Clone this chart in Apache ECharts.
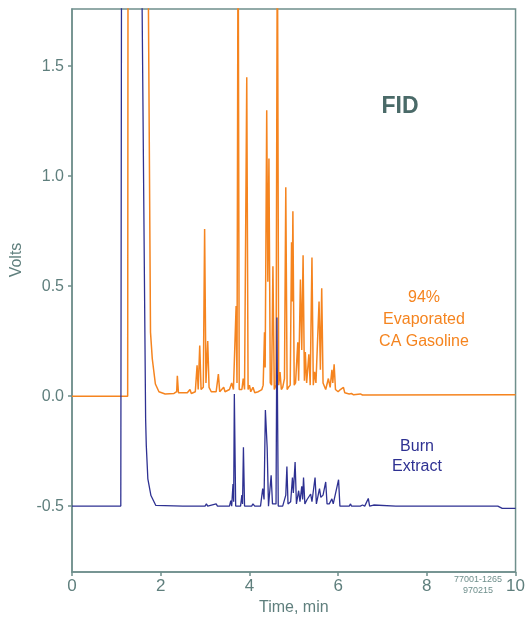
<!DOCTYPE html>
<html>
<head>
<meta charset="utf-8">
<script src="https://cdn.jsdelivr.net/npm/echarts@6/dist/echarts.min.js"></script>
<style>
  html, body { margin: 0; padding: 0; background: #ffffff; }
  #chart { width: 528px; height: 621px; }
</style>
</head>
<body>
<div id="chart"></div>
<script>
// FID chromatogram: 94% evaporated CA gasoline vs. burn extract
// Retention time (min) and detector signal (volts) for each trace.
const gasolineTime = [
  0, 1.255, 1.265, 1.70, 1.77, 1.81, 1.88, 1.96, 2.10, 2.30,
  2.36, 2.375, 2.40, 2.60, 2.66, 2.69, 2.78, 2.82, 2.845, 2.88,
  2.91, 2.96, 2.99, 3.02, 3.06, 3.09, 3.14, 3.25, 3.30, 3.33,
  3.42, 3.45, 3.55, 3.60, 3.64, 3.70, 3.72, 3.745, 3.77, 3.83,
  3.86, 3.89, 3.94, 3.97, 4.00, 4.03, 4.08, 4.12, 4.20, 4.28,
  4.31, 4.34, 4.355, 4.39, 4.415, 4.44, 4.47, 4.50, 4.53, 4.56,
  4.60, 4.63, 4.66, 4.69, 4.72, 4.75, 4.79, 4.82, 4.85, 4.88,
  4.92, 4.95, 4.965, 4.98, 5.01, 5.04, 5.09, 5.11, 5.15, 5.18,
  5.21, 5.24, 5.26, 5.29, 5.34, 5.37, 5.41, 5.44, 5.47, 5.50,
  5.57, 5.60, 5.63, 5.66, 5.72, 5.78, 5.82, 5.86, 5.88, 5.91,
  5.94, 6.00, 6.05, 6.12, 6.15, 6.25, 6.30, 6.35, 6.50, 6.55,
  10
];
const gasolineVolts = [
  0, 0, 2.5, 2.5, 0.29, 0.17, 0.055, 0.02, 0.01, 0.012,
  0.02, 0.092, 0.015, 0.015, 0.03, 0.012, 0.02, 0.14, 0.03, 0.23,
  0.03, 0.04, 0.76, 0.06, 0.25, 0.04, 0.02, 0.02, 0.10, 0.02,
  0.04, 0.02, 0.03, 0.06, 0.03, 0.41, 0.06, 2.3, 0.03, 0.03,
  0.08, 0.03, 1.45, 0.03, 0.05, 0.02, 0.04, 0.015, 0.02, 0.03,
  0.05, 0.29, 0.13, 1.30, 0.52, 1.08, 0.06, 0.05, 0.59, 0.03,
  0.05, 2.2, 0.05, 0.11, 0.03, 0.04, 0.08, 0.95, 0.03, 0.04,
  0.05, 0.70, 0.43, 0.84, 0.05, 0.06, 0.245, 0.07, 0.53, 0.21,
  0.64, 0.07, 0.20, 0.06, 0.19, 0.05, 0.63, 0.05, 0.11, 0.06,
  0.43, 0.12, 0.49, 0.06, 0.03, 0.08, 0.04, 0.12, 0.06, 0.145,
  0.03, 0.02, 0.03, 0.04, 0.015, 0.01, 0.012, 0.006, 0.01, 0.005,
  0.006
];

const burnTime = [
  0, 1.10, 1.12, 1.55, 1.66, 1.675, 1.71, 1.78, 1.89, 2.50,
  3.00, 3.03, 3.06, 3.25, 3.28, 3.55, 3.58, 3.60, 3.63, 3.645,
  3.66, 3.69, 3.80, 3.83, 3.845, 3.865, 3.89, 4.05, 4.08, 4.12,
  4.25, 4.30, 4.33, 4.36, 4.40, 4.43, 4.49, 4.52, 4.60, 4.62,
  4.65, 4.75, 4.82, 4.845, 4.87, 4.93, 4.97, 4.99, 5.03, 5.06,
  5.11, 5.14, 5.18, 5.20, 5.22, 5.25, 5.30, 5.38, 5.41, 5.48,
  5.51, 5.58, 5.61, 5.66, 5.72, 5.75, 5.80, 5.86, 5.89, 6.01,
  6.04, 6.25, 6.28, 6.30, 6.50, 6.55, 6.60, 6.68, 6.71, 6.80,
  6.83, 7.30, 7.32, 7.35, 9.60, 9.70, 10
];
const burnVolts = [
  -0.5, -0.5, 2.5, 2.5, -0.105, -0.225, -0.376, -0.452, -0.497, -0.5,
  -0.5, -0.49, -0.5, -0.49, -0.5, -0.5, -0.475, -0.5, -0.40, -0.48,
  0.01, -0.5, -0.5, -0.45, -0.49, -0.233, -0.5, -0.5, -0.49, -0.5,
  -0.5, -0.42, -0.47, -0.063, -0.233, -0.5, -0.36, -0.49, -0.49, 0.357,
  -0.5, -0.5, -0.45, -0.32, -0.49, -0.48, -0.37, -0.44, -0.30, -0.49,
  -0.43, -0.48, -0.41, -0.47, -0.37, -0.49, -0.47, -0.445, -0.48, -0.37,
  -0.49, -0.42, -0.46, -0.45, -0.39, -0.49, -0.49, -0.467, -0.49, -0.38,
  -0.5, -0.5, -0.49, -0.5, -0.5, -0.495, -0.5, -0.465, -0.5, -0.495,
  -0.5, -0.5, -0.495, -0.5, -0.5, -0.51, -0.51
];

const xTicks = [0, 2, 4, 6, 8, 10];
const yTicks = [-0.5, 0.0, 0.5, 1.0, 1.5];

const axisColor = '#6f8f8c';
const labelColor = '#5f7f7d';
const fontFamily = '"Liberation Sans", Arial, sans-serif';

const pairs = (xs, ys) => xs.map((x, i) => [x, ys[i]]);

const chart = echarts.init(document.getElementById('chart'), null, { renderer: 'canvas' });

chart.setOption({
  animation: false,
  backgroundColor: '#ffffff',
  grid: {
    left: 72, right: 11, top: 9, bottom: 47,
    show: true, borderColor: axisColor, borderWidth: 1.5, backgroundColor: 'transparent'
  },
  xAxis: {
    type: 'value',
    min: 0, max: 10, interval: 2,
    name: 'Time, min',
    nameLocation: 'middle',
    nameGap: 24,
    nameTextStyle: { color: labelColor, fontSize: 16, fontFamily },
    axisLine: { show: true, onZero: false, lineStyle: { color: axisColor, width: 1.5 } },
    axisTick: { show: true, length: 4, lineStyle: { color: axisColor, width: 1.5 } },
    axisLabel: {
      color: labelColor, fontSize: 17, fontFamily, margin: 6,
      customValues: xTicks
    },
    splitLine: { show: false }
  },
  yAxis: {
    type: 'value',
    min: -0.8, max: 1.76,
    axisLine: { show: true, onZero: false, lineStyle: { color: axisColor, width: 1.5 } },
    axisTick: { show: true, length: 4, lineStyle: { color: axisColor, width: 1.5 }, customValues: yTicks },
    axisLabel: {
      color: labelColor, fontSize: 16, fontFamily, margin: 8,
      customValues: yTicks,
      formatter: v => v.toFixed(1)
    },
    splitLine: { show: false }
  },
  series: [
    {
      name: '94% Evaporated CA Gasoline',
      type: 'line',
      data: pairs(gasolineTime, gasolineVolts),
      showSymbol: false,
      clip: true,
      lineStyle: { color: '#f5841f', width: 1.5 },
      z: 2
    },
    {
      name: 'Burn Extract',
      type: 'line',
      data: pairs(burnTime, burnVolts),
      showSymbol: false,
      clip: true,
      lineStyle: { color: '#2e3192', width: 1.3 },
      z: 3
    }
  ],
  graphic: [
    {
      type: 'text', x: 17, y: 260, rotation: Math.PI / 2,
      style: { text: 'Volts', fill: labelColor, font: '16px ' + fontFamily, align: 'center', verticalAlign: 'middle' }
    },
    {
      type: 'text', x: 400, y: 107,
      style: { text: 'FID', fill: '#4a6a68', font: 'bold 23px ' + fontFamily, align: 'center', verticalAlign: 'middle' }
    },
    {
      type: 'text', x: 424, y: 320,
      style: { text: '94%\nEvaporated\nCA Gasoline', fill: '#f5841f', font: '16px ' + fontFamily, lineHeight: 22, align: 'center', verticalAlign: 'middle' }
    },
    {
      type: 'text', x: 417, y: 457,
      style: { text: 'Burn\nExtract', fill: '#2e3192', font: '16px ' + fontFamily, lineHeight: 20, align: 'center', verticalAlign: 'middle' }
    },
    {
      type: 'text', x: 478, y: 585,
      style: { text: '77001-1265\n970215', fill: '#6f8f8c', font: '9px ' + fontFamily, lineHeight: 11, align: 'center', verticalAlign: 'middle' }
    }
  ]
});
</script>
</body>
</html>
